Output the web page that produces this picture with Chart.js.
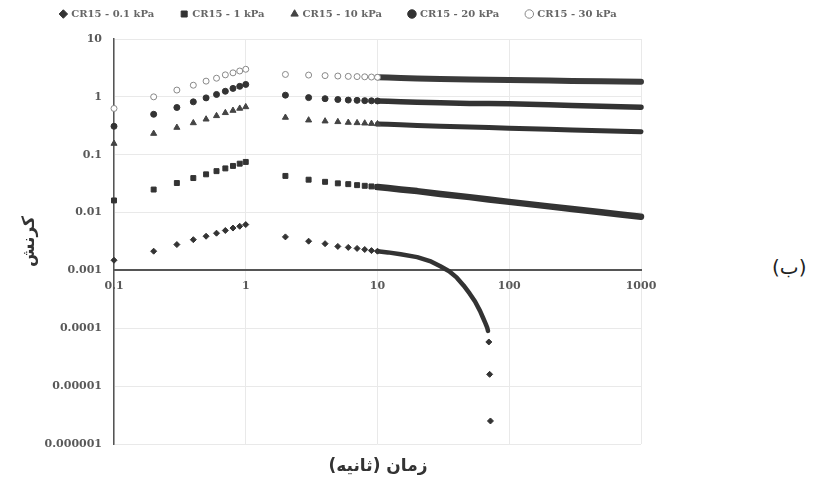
<!DOCTYPE html>
<html lang="fa">
<head>
<meta charset="utf-8">
<title>کرنش - زمان</title>
<script src="https://cdn.jsdelivr.net/npm/chart.js@4.4.1/dist/chart.umd.min.js"></script>
<style>
  body { margin: 0; background: #fff; }
  #wrap { position: relative; width: 833px; height: 493px; overflow: hidden; }
  #chart { position: absolute; left: 0; top: 0; }
  #xTitle { position: absolute; left: 278px; width: 200px; top: 455px; text-align: center;
            font: bold 17px "DejaVu Sans"; color: #333; direction: rtl; }
  #tag { position: absolute; left: 772px; top: 255px; font: 20px "DejaVu Sans"; color: #222; direction: rtl; }
</style>
</head>
<body>
<div id="wrap">
  <canvas id="chart" width="676" height="493"></canvas>
  <div id="xTitle">زمان (ثانیه)</div>
  <div id="tag">(ب)</div>
</div>
<script>
// زمان بارگذاری و باربرداری (ثانیه)
const loadTimes = [0.1, 0.2, 0.3, 0.4, 0.5, 0.6, 0.7, 0.8, 0.9, 1];
const recTimes = [2, 3, 4, 5, 6, 7, 8, 9, 10, 12, 15, 20, 30, 50, 70, 100, 200, 300, 500, 700, 1000];
const recTimesLow = [2, 3, 4, 5, 6, 7, 8, 9, 10, 12, 15, 20, 25, 30, 35, 40, 45, 50, 55, 60, 63, 66, 68, 69, 70, 71, 72];

// کرنش هر سری
const cr01Load = [0.0015, 0.00215, 0.0028, 0.0034, 0.0039, 0.0044, 0.0049, 0.0054, 0.0058, 0.0062];
const cr01Rec = [0.0038, 0.0032, 0.0029, 0.0026, 0.0025, 0.0024, 0.0023, 0.0022, 0.00215, 0.00205, 0.0019, 0.0017,
                 0.00145, 0.00118, 0.00097, 0.00075, 0.00055, 0.0004, 0.00029, 0.0002, 0.000155, 0.000122,
                 0.000103, 0.00009, 0.000058, 0.000016, 0.0000025];
const cr1Load = [0.0162, 0.025, 0.0324, 0.0395, 0.0458, 0.052, 0.058, 0.064, 0.07, 0.075];
const cr1Rec = [0.043, 0.037, 0.034, 0.032, 0.031, 0.0298, 0.029, 0.0283, 0.0277, 0.0265, 0.025, 0.0235, 0.021,
                0.0185, 0.0168, 0.0153, 0.0128, 0.0115, 0.0101, 0.0093, 0.0085];
const cr10Load = [0.156, 0.232, 0.295, 0.354, 0.41, 0.47, 0.53, 0.58, 0.63, 0.67];
const cr10Rec = [0.44, 0.395, 0.38, 0.37, 0.36, 0.355, 0.35, 0.345, 0.34, 0.335, 0.33, 0.32, 0.31, 0.3, 0.294,
                 0.287, 0.276, 0.268, 0.26, 0.255, 0.25];
const cr20Load = [0.31, 0.5, 0.655, 0.82, 0.96, 1.1, 1.25, 1.4, 1.52, 1.64];
const cr20Rec = [1.07, 0.97, 0.93, 0.9, 0.88, 0.87, 0.86, 0.855, 0.85, 0.84, 0.825, 0.81, 0.79, 0.77, 0.765,
                 0.76, 0.73, 0.71, 0.69, 0.675, 0.66];
const cr30Load = [0.63, 1.0, 1.31, 1.59, 1.87, 2.1, 2.4, 2.6, 2.8, 3.0];
const cr30Rec = [2.44, 2.38, 2.33, 2.29, 2.26, 2.24, 2.22, 2.2, 2.18, 2.15, 2.12, 2.08, 2.04, 2.0, 1.97,
                 1.95, 1.91, 1.88, 1.86, 1.84, 1.83];

const seriesNames = ['CR15 - 0.1 kPa', 'CR15 - 1 kPa', 'CR15 - 10 kPa', 'CR15 - 20 kPa', 'CR15 - 30 kPa'];

const xTicks = [0.1, 1, 10, 100, 1000];
const xTickLabels = ['0.1', '1', '10', '100', '1000'];
const yTicks = [10, 1, 0.1, 0.01, 0.001, 0.0001, 0.00001, 0.000001];
const yTickLabels = ['10', '1', '0.1', '0.01', '0.001', '0.0001', '0.00001', '0.000001'];

function pts(tl, vl, tr, vr) {
  return tl.map((t, i) => ({ x: t, y: vl[i] })).concat(tr.map((t, i) => ({ x: t, y: vr[i] })));
}

// نقاط پس از ثانیه 10 آنقدر فشرده اند که یک نوار پیوسته می سازند
function makeSet(label, data, st, bandEnd) {
  return {
    label: label,
    data: data,
    showLine: true,
    borderColor: st.band,
    borderWidth: st.width,
    borderCapStyle: 'round',
    borderJoinStyle: 'round',
    tension: 0,
    pointStyle: st.shape,
    pointBackgroundColor: st.fill,
    pointBorderColor: st.stroke,
    pointBorderWidth: 1,
    pointRadius: ctx => (ctx.raw && ctx.raw.x > 10 && ctx.raw.x <= bandEnd) ? 0 : st.r,
    clip: false,
    segment: {
      borderColor: ctx => (ctx.p0.parsed.x >= 10 && ctx.p1.parsed.x <= bandEnd) ? st.band : 'transparent'
    }
  };
}

const tickFont = { family: 'DejaVu Serif', size: 11, weight: 'bold' };

// ارتفاع و جابجایی راهنما
const legendPlace = {
  id: 'legendPlace',
  beforeInit(chart) {
    const lg = chart.legend;
    const fit = lg.fit;
    lg.fit = function () {
      fit.call(this);
      this.height = 57;
    };
    const draw = lg.draw;
    lg.draw = function () {
      this.ctx.save();
      this.ctx.translate(18, 0);
      draw.call(this);
      this.ctx.restore();
    };
  }
};

new Chart(document.getElementById('chart'), {
  type: 'scatter',
  data: {
    datasets: [
      makeSet(seriesNames[0], pts(loadTimes, cr01Load, recTimesLow, cr01Rec),
        { shape: 'rectRot', r: 3, fill: '#333', stroke: '#333', band: '#333', width: 4.5 }, 69),
      makeSet(seriesNames[1], pts(loadTimes, cr1Load, recTimes, cr1Rec),
        { shape: 'rect', r: 3.5, fill: '#333', stroke: '#333', band: '#333', width: 6.5 }, 1000),
      makeSet(seriesNames[2], pts(loadTimes, cr10Load, recTimes, cr10Rec),
        { shape: 'triangle', r: 3.5, fill: '#444', stroke: '#444', band: '#333', width: 5 }, 1000),
      makeSet(seriesNames[3], pts(loadTimes, cr20Load, recTimes, cr20Rec),
        { shape: 'circle', r: 3, fill: '#333', stroke: '#333', band: '#333', width: 5.5 }, 1000),
      makeSet(seriesNames[4], pts(loadTimes, cr30Load, recTimes, cr30Rec),
        { shape: 'circle', r: 3, fill: '#fff', stroke: '#888', band: '#3a3a3a', width: 6 }, 1000)
    ]
  },
  options: {
    responsive: false,
    devicePixelRatio: 1,
    animation: false,
    layout: { padding: { top: -18, left: 0, right: 35, bottom: 49 } },
    plugins: {
      tooltip: { enabled: false },
      legend: {
        position: 'top',
        labels: {
          usePointStyle: true,
          boxWidth: 6,
          boxHeight: 6,
          padding: 27,
          color: '#666',
          font: { family: 'DejaVu Serif', size: 10, weight: 'bold' }
        }
      }
    },
    scales: {
      x: {
        type: 'logarithmic',
        min: 0.1,
        max: 1000,
        position: { y: 0.001 },
        afterBuildTicks: s => { s.ticks = xTicks.map(v => ({ value: v })); },
        ticks: {
          callback: v => xTickLabels[xTicks.indexOf(v)],
          autoSkip: false, maxRotation: 0, padding: 9,
          color: '#595959', font: tickFont
        },
        grid: { color: '#e9e9e9', drawTicks: false },
        border: { color: '#555', width: 2 }
      },
      y: {
        type: 'logarithmic',
        min: 0.000001,
        max: 10,
        afterBuildTicks: s => { s.ticks = yTicks.map(v => ({ value: v })); },
        afterFit: s => { s.width = 114; },
        ticks: {
          callback: v => yTickLabels[yTicks.indexOf(v)],
          autoSkip: false, padding: 12,
          color: '#595959', font: tickFont
        },
        grid: { color: '#e9e9e9', drawTicks: false },
        border: { color: '#555', width: 1.5 },
        title: {
          display: true,
          text: 'کرنش',
          color: '#333',
          font: { family: 'DejaVu Sans', size: 17, weight: 'bold' },
          padding: { top: 19, bottom: 0 }
        }
      }
    }
  },
  plugins: [legendPlace]
});
</script>
</body>
</html>
